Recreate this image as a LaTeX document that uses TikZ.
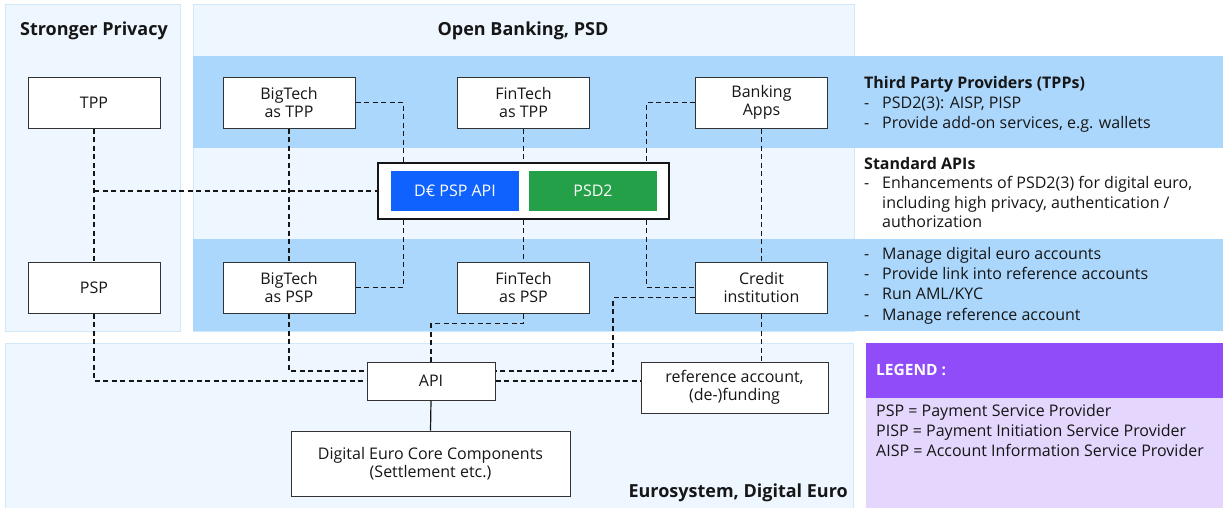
\documentclass[tikz,border=0pt]{standalone}
\usepackage{fontspec}
\setmainfont{Open Sans}
\definecolor{panelfill}{RGB}{238,247,255}
\definecolor{panelline}{RGB}{208,232,250}
\definecolor{band}{RGB}{172,215,252}
\definecolor{txt}{RGB}{22,22,22}
\definecolor{boxline}{RGB}{50,50,50}
\definecolor{ibmblue}{RGB}{15,98,254}
\definecolor{ibmgreen}{RGB}{36,161,72}
\definecolor{legpurple}{RGB}{145,76,250}
\definecolor{leglight}{RGB}{228,214,253}
\tikzset{
  box/.style={draw=boxline, fill=white, line width=1pt, minimum width=132pt, minimum height=51pt,
    align=center, inner sep=0pt, text=txt, font=\fontsize{16}{18}\selectfont},
  conn/.style={draw=txt, line width=1.2pt, dash pattern=on 5pt off 3.5pt},
  title/.style={font=\fontsize{18}{20}\selectfont\bfseries, text=txt, inner sep=0pt},
  sidetext/.style={font=\fontsize{16}{20.3}\selectfont, text=txt, align=left, anchor=north west, inner sep=0pt},
  apiblock/.style={minimum width=128pt, minimum height=40pt, inner sep=0pt, text=white, font=\fontsize{16}{18}\selectfont}
}
\newcommand{\dashitem}[1]{\makebox[18pt][l]{-}#1}
\newcommand{\contitem}[1]{\hspace*{18pt}#1}
\begin{document}
\begin{tikzpicture}[x=1pt,y=-1pt]
\useasboundingbox (0,0) rectangle (1223,507);
% panels
\filldraw[fill=panelfill, draw=panelline, line width=1pt] (5,4) rectangle (180,331);
\filldraw[fill=panelfill, draw=panelline, line width=1pt] (193,4) rectangle (854,331);
\filldraw[fill=panelfill, draw=panelline, line width=1pt] (5,343) rectangle (853,515);
\fill[band] (193,56) rectangle (1223,148);
\fill[band] (193,239) rectangle (1223,331);
\fill[legpurple] (866,343) rectangle (1223,398);
\fill[leglight] (866,398) rectangle (1223,510);
% titles
\node[title] (tsp) at (94,31) {Stronger Privacy};
\node[title] (tob) at (523,31) {Open Banking, PSD};
\node[title, anchor=east] (tes) at (848,493) {Eurosystem, Digital Euro};
% boxes
\node[box] (tpp) at (94,102.5) {TPP};
\node[box] (bttpp) at (289,102.5) {BigTech\\as TPP};
\node[box] (fttpp) at (523.5,102.5) {FinTech\\as TPP};
\node[box] (bapps) at (761.5,102.5) {Banking\\Apps};
\node[box] (psp) at (94,287.5) {PSP};
\node[box] (btpsp) at (289,287.5) {BigTech\\as PSP};
\node[box] (ftpsp) at (523.5,287.5) {FinTech\\as PSP};
\node[box] (credit) at (761.5,287.5) {Credit\\institution};
\node[draw=txt, fill=white, line width=1.4pt, minimum width=291pt, minimum height=56pt, inner sep=0pt] (apibox) at (523.5,191) {};
\node[apiblock, fill=ibmblue] (dpsp) at (455,191) {D€ PSP API};
\node[apiblock, fill=ibmgreen] (psd2) at (593,191) {PSD2};
\node[box, minimum width=128pt, minimum height=38pt] (api) at (431,381) {API};
\node[box, minimum width=279pt, minimum height=65pt] (core) at (430.5,463.5) {Digital Euro Core Components\\(Settlement etc.)};
\node[box, minimum width=187pt, minimum height=51pt] (refacc) at (734.5,387.5) {reference account,\\(de-)funding};
% connectors
\draw[conn] (tpp.south) -- (psp.north);
\draw[conn] (tpp.south |- apibox.west) -- (apibox.west);
\draw[conn] (bttpp.south) -- (btpsp.north);
\draw[conn] (bttpp.east) -| ([xshift=26pt]apibox.north west);
\draw[conn] ([xshift=26pt]apibox.south west) |- (btpsp.east);
\draw[conn] (fttpp.south) -- (apibox.north);
\draw[conn] (apibox.south) -- (ftpsp.north);
\draw[conn] (bapps.west) -| ([xshift=-23pt]apibox.north east);
\draw[conn] ([xshift=-23pt]apibox.south east) |- (credit.west);
\draw[conn] (bapps.south) -- (credit.north);
\draw[conn] ([yshift=-10pt]credit.west) -- ++(-82,0) |- ([yshift=10pt]api.east);
\draw[conn] (ftpsp.south) -- ++(0,10) -| (api.north);
\draw[conn] (btpsp.south) |- ([yshift=10pt]api.west);
\draw[conn] (psp.south) |- (api.west);
\draw[conn] (api.east) -- (api.east -| refacc.west);
\draw[conn] (credit.south) -- (credit.south |- refacc.north);
\draw[draw=txt, line width=1.2pt] (api.south) -- (core.north);
% side texts
\node[sidetext] (tpptxt) at (864,76) {{\bfseries Third Party Providers (TPPs)}\\\dashitem{PSD2(3): AISP, PISP}\\\dashitem{Provide add-on services, e.g. wallets}};
\node[sidetext, font=\fontsize{16}{19.5}\selectfont] (apitxt) at (864,157) {{\bfseries Standard APIs}\\\dashitem{Enhancements of PSD2(3) for digital euro,}\\\contitem{including high privacy, authentication /}\\\contitem{authorization}};
\node[sidetext] (psptxt) at (864,247) {\dashitem{Manage digital euro accounts}\\\dashitem{Provide link into reference accounts}\\\dashitem{Run AML/KYC}\\\dashitem{Manage reference account}};
% legend
\node[anchor=west, inner sep=0pt, text=white, font=\fontsize{15.5}{18}\selectfont\bfseries] (legt) at (876,370) {LEGEND :};
\node[sidetext] (legtxt) at (876,404) {PSP = Payment Service Provider\\PISP = Payment Initiation Service Provider\\AISP = Account Information Service Provider};
\end{tikzpicture}
\end{document}
